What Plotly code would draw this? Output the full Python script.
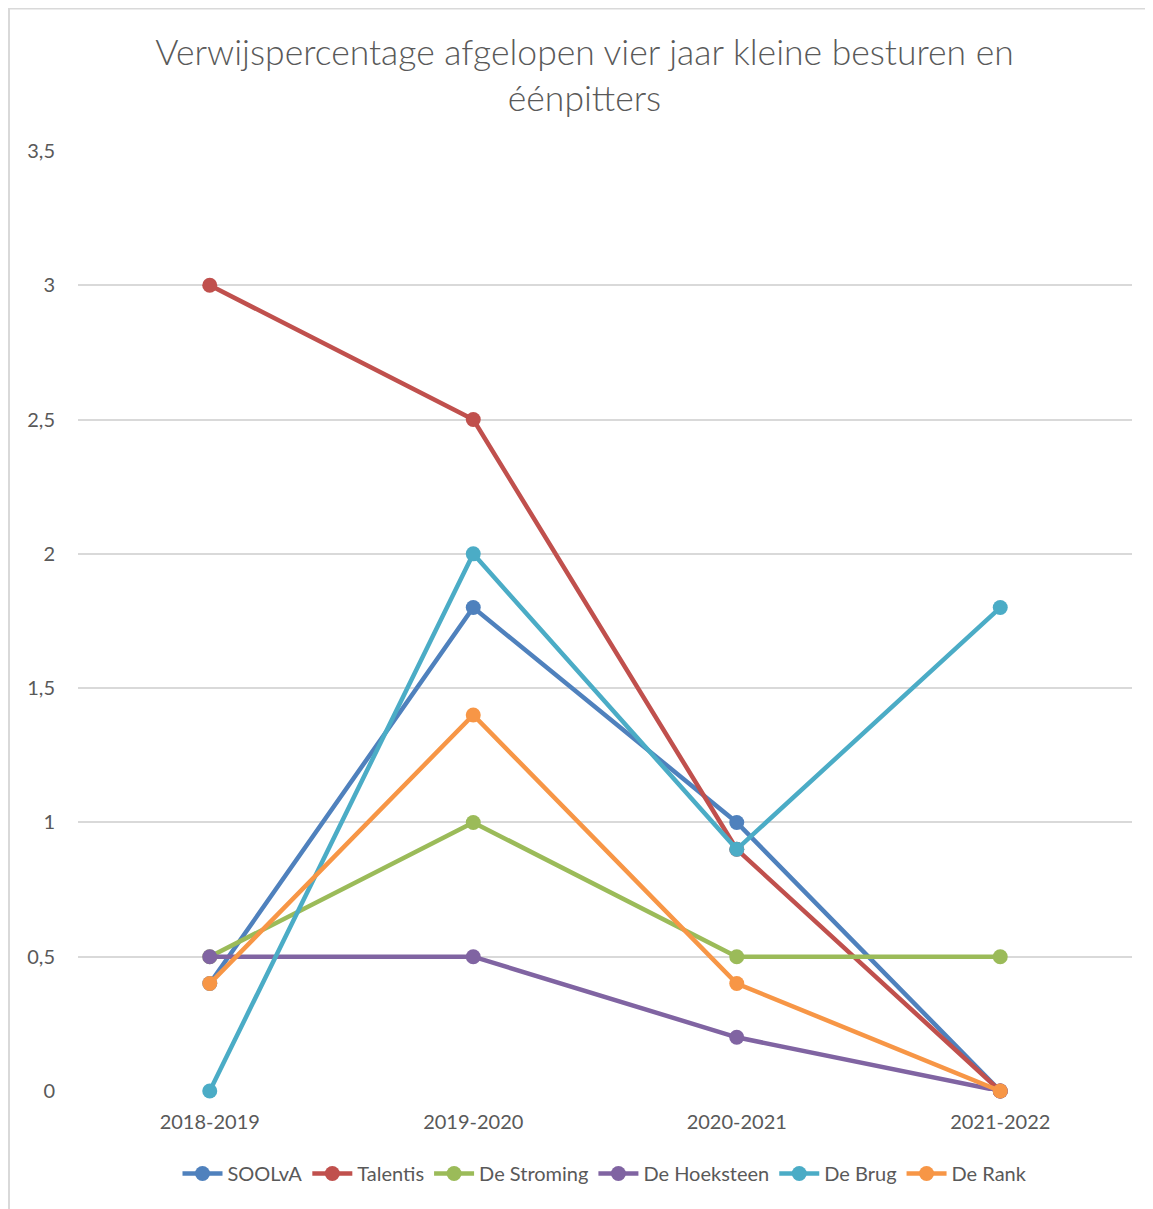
import plotly.graph_objects as go

categories = ["2018-2019", "2019-2020", "2020-2021", "2021-2022"]
soolva = [0.4, 1.8, 1.0, 0]
talentis = [3.0, 2.5, 0.9, 0]
de_stroming = [0.5, 1.0, 0.5, 0.5]
de_hoeksteen = [0.5, 0.5, 0.2, 0]
de_brug = [0, 2.0, 0.9, 1.8]
de_rank = [0.4, 1.4, 0.4, 0]

series = [
    ("SOOLvA", soolva, "#4F81BD"),
    ("Talentis", talentis, "#C0504D"),
    ("De Stroming", de_stroming, "#9BBB59"),
    ("De Hoeksteen", de_hoeksteen, "#8064A2"),
    ("De Brug", de_brug, "#4BACC6"),
    ("De Rank", de_rank, "#F79646"),
]

y_ticks = [0, 0.5, 1, 1.5, 2, 2.5, 3, 3.5]
y_ticktext = ["0", "0,5", "1", "1,5", "2", "2,5", "3", "3,5"]

fig = go.Figure()
for name, vals, col in series:
    fig.add_trace(go.Scatter(
        x=list(range(len(categories))), y=vals, name=name,
        mode="lines+markers",
        line=dict(color=col, width=4.5),
        marker=dict(color=col, size=15),
        cliponaxis=False,
    ))

font_family = "Lato, Open Sans, sans-serif"
W, H = 1153, 1209
L, R, T, B = 70, 29, 143, 126
pw, ph = W - L - R, H - T - B

fig.update_layout(
    width=W, height=H,
    paper_bgcolor="white", plot_bgcolor="white",
    margin=dict(l=L, r=R, t=T, b=B),
    title=dict(
        text="Verwijspercentage afgelopen vier jaar kleine besturen en<br>éénpitters",
        x=0.5, xanchor="center", y=1 - 57 / H, yanchor="top",
        font=dict(family=font_family, size=35.5, color="#595959", weight=300),
    ),
    font=dict(family=font_family, color="#595959"),
    showlegend=True,
    legend=dict(
        orientation="h", x=0.5, xanchor="center", y=-63 / ph, yanchor="top",
        font=dict(family=font_family, size=20, color="#595959"),
        itemwidth=40, tracegroupgap=0,
    ),
    xaxis=dict(
        range=[-0.5, 3.5], tickvals=list(range(len(categories))), ticktext=categories,
        showgrid=False, zeroline=False, showline=False,
        ticks="outside", ticklen=13, tickcolor="rgba(0,0,0,0)",
        tickfont=dict(family=font_family, size=20, color="#595959"),
        fixedrange=True,
    ),
    yaxis=dict(
        range=[0, 3.5], tickvals=y_ticks, ticktext=y_ticktext,
        showgrid=True, gridcolor="#D9D9D9", gridwidth=1.5,
        zeroline=False, showline=False,
        ticks="outside", ticklen=18, tickcolor="rgba(0,0,0,0)",
        tickfont=dict(family=font_family, size=20, color="#595959"),
        fixedrange=True,
    ),
    shapes=[dict(
        type="rect", xref="paper", yref="paper",
        x0=(1 - L) / pw, x1=1.2, y0=-0.3, y1=1 + (T - 0.5) / ph,
        line=dict(color="#D9D9D9", width=2), layer="below",
    )],
)

fig.write_html("out.html")
